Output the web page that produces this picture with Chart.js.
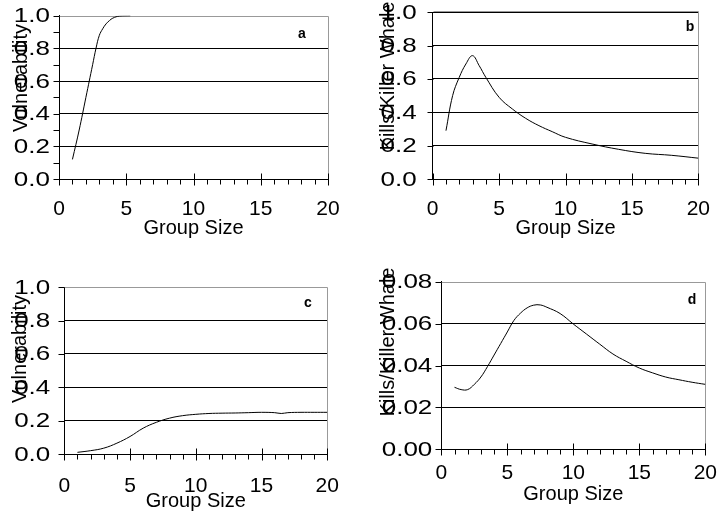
<!DOCTYPE html>
<html>
<head>
<meta charset="utf-8">
<script src="https://cdn.jsdelivr.net/npm/chart.js@4"></script>
<style>
body { margin: 0; background: #fff; }
canvas { position: absolute; }
</style>
</head>
<body>
<canvas id="pa" width="364" height="260" style="left:0;top:0"></canvas>
<canvas id="pb" width="364" height="260" style="left:364px;top:0"></canvas>
<canvas id="pc" width="364" height="259" style="left:0;top:260px"></canvas>
<canvas id="pd" width="364" height="259" style="left:364px;top:260px"></canvas>
<script>
// panel a: vulnerability vs group size
const sizeA = [1, 1.5, 2, 2.5, 2.75, 3, 3.25, 3.5, 3.75, 4, 4.5, 5.3];
const vulnA = [0.12, 0.3, 0.5, 0.7, 0.8, 0.88, 0.92, 0.95, 0.97, 0.985, 0.998, 1.0];
// panel b: kills per killer whale
const sizeB = [1, 1.5, 2, 2.5, 3, 3.5, 4, 5, 6, 7, 8, 9, 10, 12, 14, 16, 18, 20];
const killsB = [0.29, 0.5, 0.61, 0.69, 0.74, 0.68, 0.61, 0.49, 0.42, 0.364, 0.32, 0.284, 0.25, 0.21, 0.178, 0.154, 0.142, 0.125];
// panel c: vulnerability
const sizeC = [1, 2, 3, 4, 5, 6, 7, 8, 9, 10, 11, 12, 13, 14, 15, 16, 16.5, 17, 18, 19, 20];
const vulnC = [0.01, 0.02, 0.035, 0.065, 0.105, 0.155, 0.19, 0.215, 0.23, 0.238, 0.243, 0.245, 0.246, 0.248, 0.25, 0.248, 0.243, 0.248, 0.25, 0.25, 0.25];
// panel d: kills per killer whale
const sizeD = [1, 1.5, 2, 2.5, 3, 3.5, 4, 4.5, 5, 5.5, 6, 6.5, 7, 7.5, 8, 9, 10, 11, 12, 13, 14, 15, 16, 17, 18, 19, 20];
const killsD = [0.0296, 0.0285, 0.0285, 0.031, 0.0345, 0.0395, 0.045, 0.0505, 0.056, 0.0615, 0.065, 0.0675, 0.0688, 0.0689, 0.0678, 0.0648, 0.0598, 0.055, 0.0502, 0.0455, 0.042, 0.0388, 0.0365, 0.0345, 0.0332, 0.032, 0.031];

const FONT = '"Liberation Sans", Arial, sans-serif';
Chart.defaults.font.family = FONT;
Chart.defaults.color = '#000';

function px(v) { return Math.round(v) + 0.5; }

function makePanel(id, xs, ys, o) {
  const canvas = document.getElementById(id);
  const W = canvas.width, H = canvas.height;
  const ca = o.area;

  // grey frame, tick marks, wide y labels, rotated y title and the panel letter
  const decor = {
    id: 'decor',
    beforeDatasetsDraw(chart) {
      const c = chart.ctx, a = chart.chartArea;
      c.save();
      c.strokeStyle = '#999';
      c.lineWidth = 1;
      c.beginPath();
      const ty = o.topBlack ? px(a.top) - 1 : px(a.top);
      c.moveTo(px(a.left), ty);
      c.lineTo(px(a.right), ty);
      c.moveTo(px(a.right), ty);
      c.lineTo(px(a.right), px(a.bottom));
      c.stroke();
      c.restore();
    },
    afterDraw(chart) {
      const c = chart.ctx, a = chart.chartArea;
      const xs = chart.scales.x, ysc = chart.scales.y;
      c.save();
      c.strokeStyle = '#000';
      c.lineWidth = 1;
      c.beginPath();
      const yStep = o.yMinor ? o.yStep / 2 : o.yStep;
      const n = Math.round(o.yMax / yStep);
      for (let i = 0; i <= n; i++) {
        const y = px(ysc.getPixelForValue(i * yStep));
        c.moveTo(px(a.left) - 6, y);
        c.lineTo(px(a.left), y);
      }
      for (let g = 0; g <= 20; g++) {
        const x = px(xs.getPixelForValue(g));
        if (g % 5 === 0) {
          c.moveTo(x, px(a.bottom) - 6);
          c.lineTo(x, px(a.bottom) + 6);
        } else {
          c.moveTo(x, px(a.bottom));
          c.lineTo(x, px(a.bottom) + 5);
        }
      }
      c.stroke();

      // y tick labels, a little wider than the font's own shape
      c.fillStyle = '#000';
      c.font = '20px ' + FONT;
      c.textAlign = 'right';
      c.textBaseline = 'middle';
      ysc.ticks.forEach(t => {
        c.save();
        c.translate(a.left - o.yPad, ysc.getPixelForValue(t.value) + 1);
        c.scale(1.3, 1);
        c.fillText(t.value.toFixed(o.dec), 0, 0);
        c.restore();
      });

      c.translate(o.titleX, o.titleY);
      c.rotate(-Math.PI / 2);
      c.textAlign = 'center';
      c.fillText(o.yTitle, 0, 0);
      c.setTransform(1, 0, 0, 1, 0, 0);
      c.font = 'bold 14px ' + FONT;
      c.fillText(o.letter, o.letterX, o.letterY);
      c.restore();
    }
  };

  new Chart(canvas, {
    type: 'line',
    data: {
      datasets: [{
        data: xs.map((x, i) => ({ x: x, y: ys[i] })),
        borderColor: '#000',
        borderWidth: 1,
        pointRadius: 0,
        tension: 0.4,
        fill: false
      }]
    },
    options: {
      responsive: false,
      animation: false,
      layout: { autoPadding: false, padding: { top: ca.top, right: W - ca.right, bottom: 0, left: 0 } },
      plugins: { legend: { display: false }, tooltip: { enabled: false } },
      scales: {
        x: {
          type: 'linear', min: 0, max: 20,
          ticks: { stepSize: 5, padding: o.xPad, font: { size: 21 }, maxRotation: 0 },
          grid: { drawOnChartArea: false, drawTicks: false },
          border: { color: '#000' },
          title: { display: true, text: 'Group Size', font: { size: 20 }, padding: { top: 0, bottom: o.titlePad } },
          afterFit(s) { s.height = H - ca.bottom; }
        },
        y: {
          min: 0, max: o.yMax,
          ticks: { stepSize: o.yStep, display: false },
          grid: {
            drawTicks: false,
            color: c => (c.tick.value > o.yMax - 1e-9 && !o.topBlack) ? 'rgba(0,0,0,0)' : '#000'
          },
          border: { color: '#000' },
          afterFit(s) { s.width = ca.left; }
        }
      }
    },
    plugins: [decor]
  });
}

makePanel('pa', sizeA, vulnA, {
  area: { left: 59, right: 328, top: 15.7, bottom: 179 },
  yMax: 1, yStep: 0.2, dec: 1, yMinor: true, yPad: 9, xPad: 18, titlePad: 20,
  yTitle: 'Vulnerability', titleX: 21, titleY: 78,
  letter: 'a', letterX: 302, letterY: 34, topBlack: false
});
makePanel('pb', sizeB, killsB, {
  area: { left: 68.7, right: 351, top: 12.3, bottom: 179 },
  yMax: 1, yStep: 0.2, dec: 1, yMinor: false, yPad: 16, xPad: 18, titlePad: 20,
  yTitle: 'Kills/Killer Whale', titleX: 24, titleY: 76,
  letter: 'b', letterX: 326, letterY: 27, topBlack: true
});
makePanel('pc', sizeC, vulnC, {
  area: { left: 64.3, right: 327.3, top: 27.3, bottom: 194 },
  yMax: 1, yStep: 0.2, dec: 1, yMinor: false, yPad: 14, xPad: 20, titlePad: 6,
  yTitle: 'Vulnerability', titleX: 20, titleY: 89,
  letter: 'c', letterX: 308, letterY: 43, topBlack: false
});
makePanel('pd', sizeD, killsD, {
  area: { left: 77.3, right: 351, top: 21.7, bottom: 189.3 },
  yMax: 0.08, yStep: 0.02, dec: 2, yMinor: false, yPad: 9, xPad: 11, titlePad: 13,
  yTitle: 'Kills/Killer Whale', titleX: 24, titleY: 82,
  letter: 'd', letterX: 328, letterY: 40, topBlack: false
});
</script>
</body>
</html>
